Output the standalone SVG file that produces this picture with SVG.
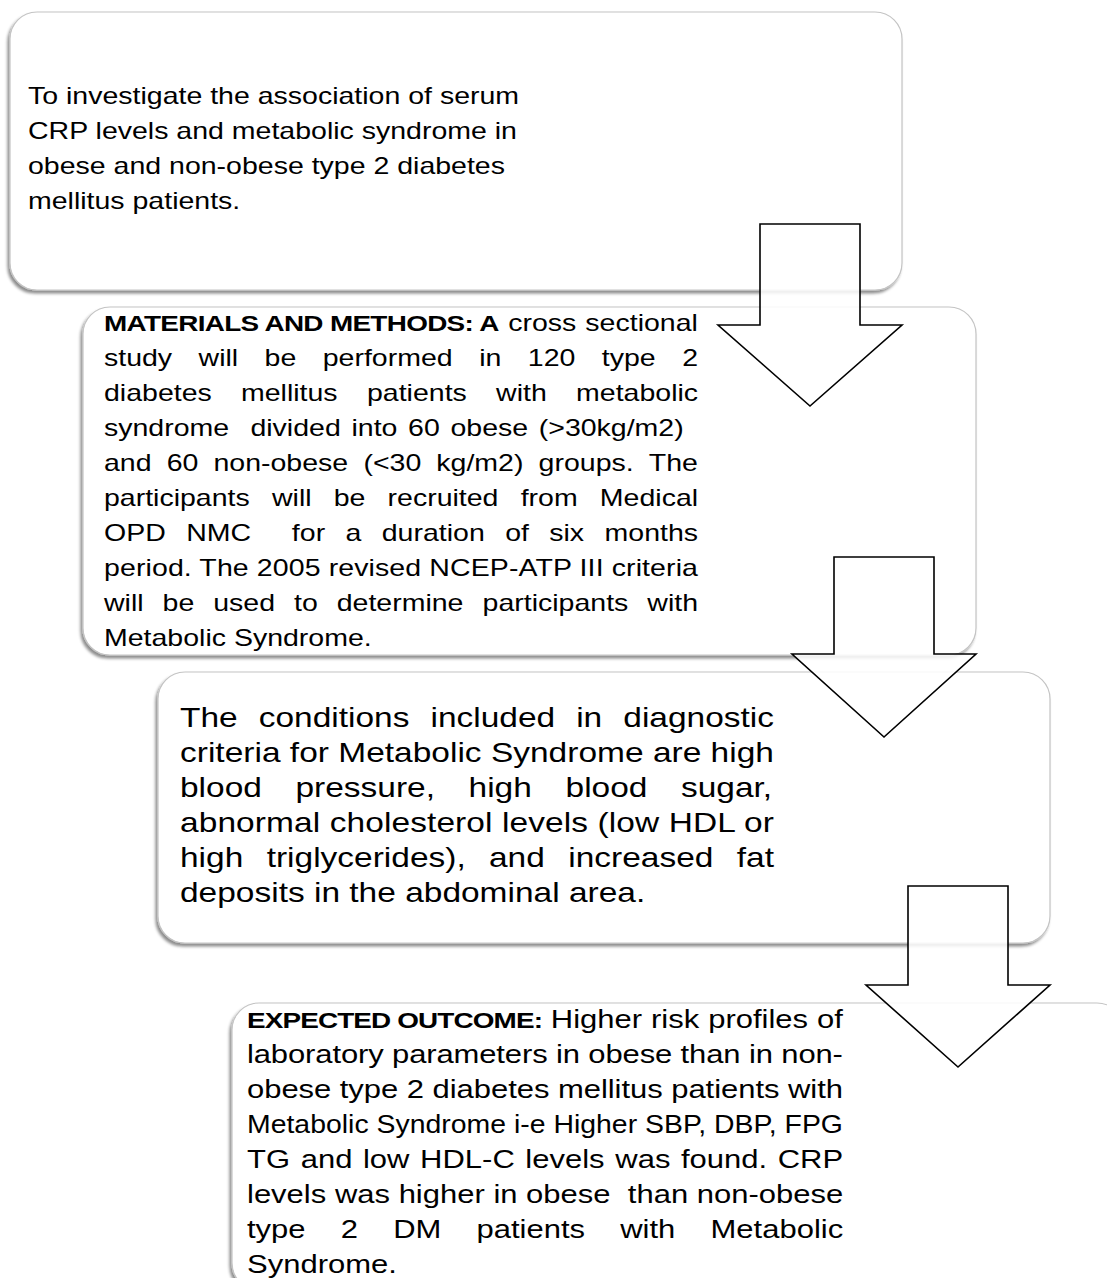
<svg xmlns="http://www.w3.org/2000/svg" width="1107" height="1278" viewBox="0 0 1107 1278">
<defs>
<filter id="sh" x="-5%" y="-5%" width="110%" height="115%">
<feDropShadow dx="-2" dy="3" stdDeviation="1.5" flood-color="#000" flood-opacity="0.45"/>
</filter>
</defs>
<style>
.box{fill:#fff;stroke:#c4c4c4;stroke-width:1.2;filter:url(#sh)}
.t{font-family:"Liberation Sans",Arial,sans-serif;fill:#000}
.b{font-weight:bold}
.arrow{fill:#fff;fill-opacity:0.85;stroke:#000;stroke-width:1.6;stroke-linejoin:miter}
</style>
<rect x="0" y="0" width="1107" height="1278" fill="#fff"/>

<g id="node1">
<rect class="box" x="10" y="12" width="892" height="278" rx="27"/>
<g class="t" font-size="23" transform="matrix(1.24,0,0,1,-6.72,0)">
<text x="28" y="104">To investigate the association of serum</text>
<text x="28" y="139">CRP levels and metabolic syndrome in</text>
<text x="28" y="174">obese and non-obese type 2 diabetes</text>
<text x="28" y="209">mellitus patients.</text>
</g>
</g>

<g id="node2">
<rect class="box" x="83" y="307" width="893" height="348" rx="27"/>
<g class="t" font-size="23" transform="matrix(1.24,0,0,1,-24.96,0)">
<text class="b" x="104" y="331" font-size="22.5" letter-spacing="-0.55">MATERIALS AND METHODS: A</text>
<text y="331"><tspan x="430">cross</tspan><tspan x="492.2">sectional</tspan></text>
<text y="366"><tspan x="104">study</tspan><tspan x="180.3">will</tspan><tspan x="233.5">be</tspan><tspan x="280.4">performed</tspan><tspan x="406.6">in</tspan><tspan x="445.8">120</tspan><tspan x="505.5">type</tspan><tspan x="570.3">2</tspan></text>
<text y="401"><tspan x="104">diabetes</tspan><tspan x="214.5">mellitus</tspan><tspan x="316.1">patients</tspan><tspan x="420.2">with</tspan><tspan x="484.7">metabolic</tspan></text>
<text y="436"><tspan x="104">syndrome</tspan><tspan x="222.1">divided</tspan><tspan x="303.6">into</tspan><tspan x="349.2">60</tspan><tspan x="383.4">obese</tspan><tspan x="454.6">(&gt;30kg/m2)</tspan></text>
<text y="471"><tspan x="104">and</tspan><tspan x="154.6">60</tspan><tspan x="192.3">non-obese</tspan><tspan x="313.2">(&lt;30</tspan><tspan x="372">kg/m2)</tspan><tspan x="454.5">groups.</tspan><tspan x="543.4">The</tspan></text>
<text y="506"><tspan x="104">participants</tspan><tspan x="239.5">will</tspan><tspan x="289.2">be</tspan><tspan x="332.7">recruited</tspan><tspan x="440">from</tspan><tspan x="503.9">Medical</tspan></text>
<text y="541"><tspan x="104">OPD</tspan><tspan x="170.3">NMC</tspan><tspan x="255.5">for</tspan><tspan x="298.8">a</tspan><tspan x="328">duration</tspan><tspan x="427.5">of</tspan><tspan x="463.1">six</tspan><tspan x="507.7">months</tspan></text>
<text x="104" y="576" textLength="479" lengthAdjust="spacing">period. The 2005 revised NCEP-ATP III criteria</text>
<text y="611"><tspan x="104">will</tspan><tspan x="151.2">be</tspan><tspan x="192.1">used</tspan><tspan x="257.3">to</tspan><tspan x="291.7">determine</tspan><tspan x="409.3">participants</tspan><tspan x="542.2">with</tspan></text>
<text x="104" y="646">Metabolic Syndrome.</text>
</g>
</g>

<g id="node3">
<rect class="box" x="158" y="672" width="892" height="271" rx="27"/>
<g class="t" font-size="27" transform="matrix(1.24,0,0,1,-43.2,0)">
<text y="727"><tspan x="180">The</tspan><tspan x="243.5">conditions</tspan><tspan x="382">included</tspan><tspan x="499.5">in</tspan><tspan x="537.5">diagnostic</tspan></text>
<text x="180" y="762" textLength="479" lengthAdjust="spacing">criteria for Metabolic Syndrome are high</text>
<text y="797"><tspan x="180">blood</tspan><tspan x="273.1">pressure,</tspan><tspan x="412.7">high</tspan><tspan x="490.9">blood</tspan><tspan x="584">sugar,</tspan></text>
<text x="180" y="832" textLength="479" lengthAdjust="spacing">abnormal cholesterol levels (low HDL or</text>
<text y="867"><tspan x="180">high</tspan><tspan x="249.9">triglycerides),</tspan><tspan x="429.2">and</tspan><tspan x="493.1">increased</tspan><tspan x="629">fat</tspan></text>
<text x="180" y="902">deposits in the abdominal area.</text>
</g>
</g>

<g id="node4">
<rect class="box" x="232" y="1003" width="892" height="287" rx="27"/>
<g class="t" font-size="25" transform="matrix(1.24,0,0,1,-59.28,0)">
<text class="b" x="247" y="1028" font-size="22.5" letter-spacing="-0.7">EXPECTED OUTCOME:</text>
<text y="1028"><tspan x="492">Higher</tspan><tspan x="572.8">risk</tspan><tspan x="618.9">profiles</tspan><tspan x="706.7">of</tspan></text>
<text x="247" y="1063" textLength="480.6" lengthAdjust="spacing">laboratory parameters in obese than in non-</text>
<text x="247" y="1098" textLength="480.6" lengthAdjust="spacing">obese type 2 diabetes mellitus patients with</text>
<text x="247" y="1133" textLength="480.6" lengthAdjust="spacingAndGlyphs">Metabolic Syndrome i-e Higher SBP, DBP, FPG</text>
<text y="1168"><tspan x="247">TG</tspan><tspan x="290.3">and</tspan><tspan x="340.5">low</tspan><tspan x="386.6">HDL-C</tspan><tspan x="471.5">levels</tspan><tspan x="544">was</tspan><tspan x="597">found.</tspan><tspan x="675">CRP</tspan></text>
<text y="1203"><tspan x="247">levels</tspan><tspan x="317.9">was</tspan><tspan x="369.3">higher</tspan><tspan x="445.7">in</tspan><tspan x="472.1">obese</tspan><tspan x="554.1">than</tspan><tspan x="609.7">non-obese</tspan></text>
<text y="1238"><tspan x="247">type</tspan><tspan x="322.6">2</tspan><tspan x="364.9">DM</tspan><tspan x="432.1">patients</tspan><tspan x="548">with</tspan><tspan x="620.8">Metabolic</tspan></text>
<text x="247" y="1273">Syndrome.</text>
</g>
</g>

<g id="connectors">
<path class="arrow" d="M760,224 H860 V325 H902 L810,406 L718,325 H760 Z"/>
<path class="arrow" d="M834,557 H934 V654 H976 L884,737 L792,654 H834 Z"/>
<path class="arrow" d="M908,886 H1008 V985 H1050 L958,1067 L866,985 H908 Z"/>
</g>
</svg>
